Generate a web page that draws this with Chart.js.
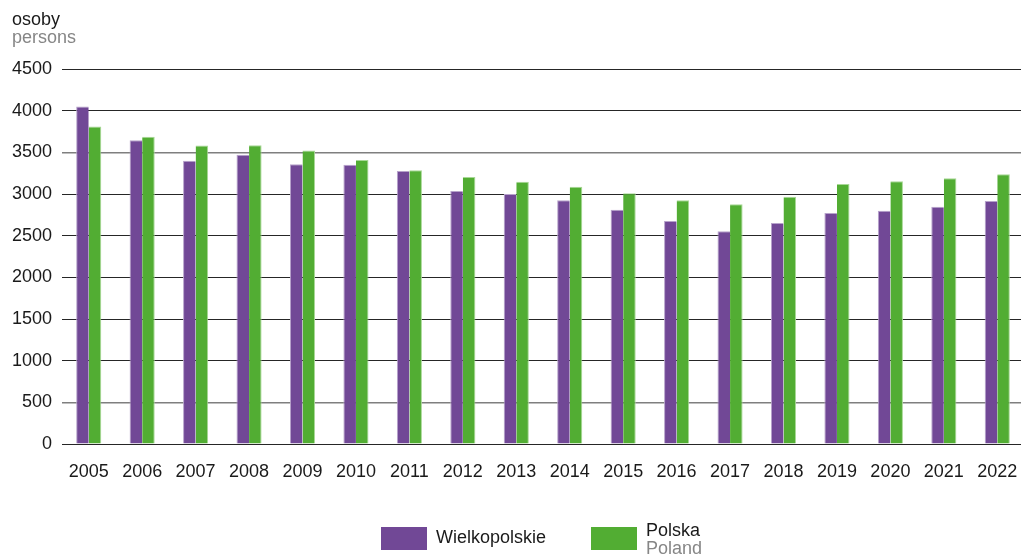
<!DOCTYPE html>
<html>
<head>
<meta charset="utf-8">
<script src="https://cdn.jsdelivr.net/npm/chart.js@4/dist/chart.umd.min.js"></script>
<style>
  html, body { margin: 0; padding: 0; background: #fff; overflow: hidden; }
  #wrap { position: relative; width: 1021px; height: 554px; overflow: hidden; font-family: "Liberation Sans", Arial, sans-serif; }
  #c { position: absolute; left: 0; top: 0; }
  .t { position: absolute; font-size: 18px; line-height: 18px; white-space: nowrap; color: #1a1a1a; }
  .g { color: #868686; }
  .box { position: absolute; width: 46px; height: 23px; }
</style>
</head>
<body>
<div id="wrap">
  <canvas id="c" width="1024" height="554"></canvas>
  <div class="t" style="left:12px; top:10px;">osoby</div>
  <div class="t g" style="left:12px; top:28px;">persons</div>
  <div class="box" style="left:381px; top:527px; background:#714896;"></div>
  <div class="t" style="left:436px; top:528px;">Wielkopolskie</div>
  <div class="box" style="left:591px; top:527px; background:#52ad33;"></div>
  <div class="t" style="left:646px; top:521px;">Polska</div>
  <div class="t g" style="left:646px; top:539px;">Poland</div>
</div>
<script>
const categories = ["2005","2006","2007","2008","2009","2010","2011","2012","2013","2014","2015","2016","2017","2018","2019","2020","2021","2022"];
const wielkopolskie = [4050, 3645, 3400, 3472, 3356, 3350, 3276, 3036, 3000, 2924, 2810, 2676, 2552, 2652, 2772, 2800, 2848, 2916];
const polska = [3810, 3688, 3582, 3584, 3522, 3408, 3284, 3204, 3146, 3086, 3008, 2926, 2876, 2968, 3120, 3152, 3190, 3236];
const yTicks = [0, 500, 1000, 1500, 2000, 2500, 3000, 3500, 4000, 4500];
const grayLines = [500, 3500];

new Chart(document.getElementById('c'), {
  type: 'bar',
  data: {
    labels: categories,
    datasets: [
      { label: 'Wielkopolskie', data: wielkopolskie, backgroundColor: '#714896',
        borderColor: '#b7a3cb', borderWidth: {top: 1, left: 1, right: 0, bottom: 0}, borderSkipped: false },
      { label: 'Polska', data: polska, backgroundColor: '#52ad33',
        borderColor: '#a8d896', borderWidth: {top: 1, left: 0, right: 1, bottom: 0}, borderSkipped: false }
    ]
  },
  options: {
    responsive: false,
    animation: false,
    devicePixelRatio: 1,
    layout: { padding: { top: 69, right: 0, bottom: 0, left: 0 } },
    plugins: { legend: { display: false }, tooltip: { enabled: false }, title: { display: false } },
    datasets: { bar: { categoryPercentage: 0.47, barPercentage: 1.0 } },
    scales: {
      x: {
        grid: { display: false, drawTicks: false },
        border: { display: true, color: '#262626', width: 1 },
        ticks: { color: '#1a1a1a', font: { family: 'Liberation Sans', size: 18 }, padding: 17, maxRotation: 0, autoSkip: false },
        afterFit: (s) => { s.height = 110; s.paddingLeft = 0; s.paddingRight = 0; }
      },
      y: {
        min: 0, max: 4500,
        afterBuildTicks: (s) => { s.ticks = yTicks.map(v => ({ value: v })); },
        grid: {
          drawTicks: false,
          color: (ctx) => (ctx.tick && grayLines.includes(ctx.tick.value)) ? '#7f7f7f' : '#262626',
          lineWidth: (ctx) => (ctx.tick && grayLines.includes(ctx.tick.value)) ? 1.6 : 1
        },
        border: { display: false },
        ticks: { color: '#1a1a1a', font: { family: 'Liberation Sans', size: 18 }, padding: 10,
                 callback: (v) => String(v) },
        afterFit: (s) => { s.width = 62; s.paddingTop = 0; s.paddingBottom = 0; }
      }
    }
  }
});
</script>
</body>
</html>
